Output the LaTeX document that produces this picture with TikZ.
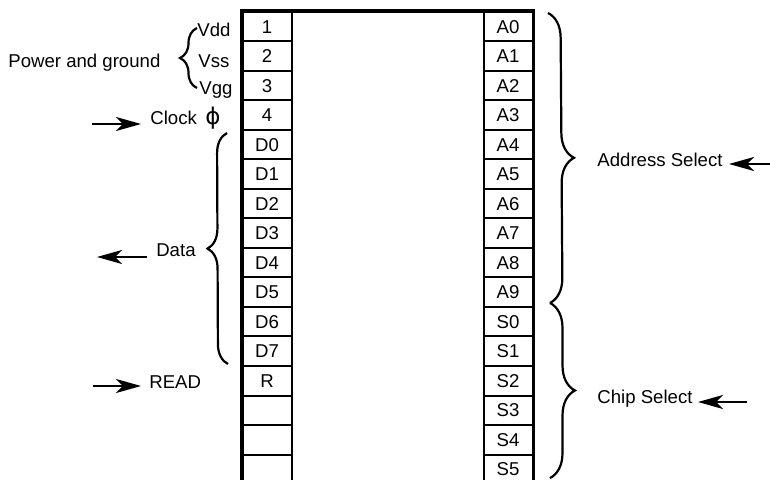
\documentclass[tikz,border=0pt]{standalone}
\usepackage{fontspec}
\setmainfont{Liberation Sans}
\newfontfamily\dejavu{DejaVu Sans}
\usetikzlibrary{arrows.meta,decorations.pathreplacing}
\begin{document}
\begin{tikzpicture}[x=0.5pt,y=-0.5pt,
  txt/.style={inner sep=0pt,font=\fontsize{9.3}{10}\selectfont},
  cell/.style={txt,draw,line width=1pt,minimum width=24.5pt,minimum height=14.75pt},
  grp/.style={decorate,decoration={brace,amplitude=#1},line width=1.1pt},
  sig/.style={line width=1.1pt,-{Stealth[length=12.5pt,width=7pt,inset=3.5pt]}}]
\useasboundingbox (0,0) rectangle (770,480);
\clip (0,0) rectangle (770,480);
% pin cells
\foreach \t [count=\i] in {1,2,3,4,D0,D1,D2,D3,D4,D5,D6,D7,R,{},{},{}}
  \node[cell] (L\i) at (267,{12+29.5*(\i-0.5)}) {\t};
\foreach \t [count=\i] in {A0,A1,A2,A3,A4,A5,A6,A7,A8,A9,S0,S1,S2,S3,S4,S5}
  \node[cell] (R\i) at (508,{12+29.5*(\i-0.5)}) {\t};
% chip outline
\draw[line width=1.8pt] (L16.south west) -- (L1.north west) -- (R1.north east) -- (R16.south east);
% left labels
\node[txt,anchor=base west] (pg) at (8,68) {Power and ground};
\node[txt,anchor=base west] (vdd) at (197,37) {Vdd};
\node[txt,anchor=base west] (vss) at (198,68) {Vss};
\node[txt,anchor=base west] (vgg) at (199,95) {Vgg};
\node[txt,anchor=base west] (clock) at (150,125) {Clock};
\node[txt,font=\fontsize{11.5}{12}\selectfont] (phi) at (213,118) {\dejavu ϕ};
\node[txt,anchor=base east] (data) at (196,257) {Data};
\node[txt,anchor=base west] (read) at (149,388) {READ};
% right labels
\node[txt,anchor=base west] (addr) at (597,167) {Address Select};
\node[txt,anchor=base west] (chip) at (597,403) {Chip Select};
% braces
\coordinate (pgB) at (197,88); \coordinate (pgT) at (197,28);
\draw[grp=8.5pt] (pgB) -- (pgT);
\coordinate (dB) at (228,364); \coordinate (dT) at (227,133);
\draw[grp=10pt] (dB) -- (dT);
\coordinate (aT) at (548,13); \coordinate (aB) at (550,303);
\draw[grp=12.5pt] (aT) -- (aB);
\coordinate (cB) at (550,478);
\draw[grp=12.5pt] (aB) -- (cB);
% arrows
\coordinate (clkS) at (92,124); \coordinate (clkE) at (141,124);
\draw[sig] (clkS) -- (clkE);
\coordinate (dS) at (147,257); \coordinate (dE) at (97,257);
\draw[sig] (dS) -- (dE);
\coordinate (rS) at (93,386); \coordinate (rE) at (141,386);
\draw[sig] (rS) -- (rE);
\coordinate (aS) at (772,164); \coordinate (aE) at (729,164);
\draw[sig] (aS) -- (aE);
\coordinate (cS) at (747,402); \coordinate (cE) at (698,402);
\draw[sig] (cS) -- (cE);
\end{tikzpicture}
\end{document}
